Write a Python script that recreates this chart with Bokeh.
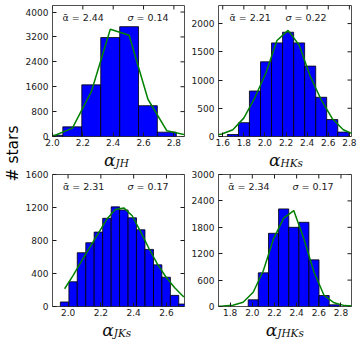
import numpy as np
from bokeh.plotting import figure
from bokeh.models import Label, FixedTicker, Range1d
from bokeh.layouts import row, column
from bokeh.embed import file_html
from bokeh.resources import INLINE

# ---------------- data ----------------
# panel 1 : alpha_JH
jh_edges = [1.944, 2.068, 2.193, 2.318, 2.443, 2.567, 2.691, 2.816]
jh_counts = [40, 310, 1660, 3180, 3530, 990, 140]
jh_fit_x = [2.006, 2.131, 2.256, 2.381, 2.505, 2.629, 2.754, 2.878]
jh_fit_y = [15, 270, 1440, 3446, 3254, 1197, 182, 50]
jh_xticks = [2.0, 2.2, 2.4, 2.6, 2.8]
jh_xlabels = ["2.0", "2.2", "2.4", "2.6", "2.8"]
jh_yticks = [0, 800, 1600, 2400, 3200, 4000]
jh_mean, jh_sigma = "2.44", "0.14"

# panel 2 : alpha_HKs
hks_edges = [1.644, 1.749, 1.853, 1.958, 2.062, 2.167, 2.272, 2.376, 2.481, 2.585, 2.690, 2.795]
hks_counts = [35, 245, 806, 1323, 1658, 1847, 1658, 1247, 695, 300, 78]
hks_fit_x = [1.487, 1.592, 1.696, 1.801, 1.905, 2.010, 2.114, 2.219, 2.324, 2.428, 2.533, 2.637, 2.742, 2.847]
hks_fit_y = [8, 45, 120, 330, 690, 1130, 1700, 1880, 1620, 1070, 650, 320, 120, 35]
hks_xticks = [1.6, 1.8, 2.0, 2.2, 2.4, 2.6, 2.8]
hks_xlabels = ["1.6", "1.8", "2.0", "2.2", "2.4", "2.6", "2.8"]
hks_yticks = [0, 500, 1000, 1500, 2000]
hks_mean, hks_sigma = "2.21", "0.22"

# panel 3 : alpha_JKs
jks_edges = [1.953, 2.005, 2.056, 2.108, 2.159, 2.211, 2.263, 2.314, 2.366, 2.417,
             2.469, 2.521, 2.572, 2.624, 2.675, 2.727]
jks_counts = [55, 300, 652, 773, 902, 1069, 1208, 1170, 1075, 930, 692, 505, 355, 135, 30]
jks_fit_x = [1.979, 2.030, 2.082, 2.133, 2.185, 2.237, 2.288, 2.340, 2.391, 2.443,
             2.494, 2.546, 2.598, 2.649, 2.701, 2.752]
jks_fit_y = [215, 375, 550, 720, 890, 1060, 1175, 1195, 1100, 905,
             700, 510, 355, 230, 125, 65]
jks_xticks = [2.0, 2.2, 2.4, 2.6]
jks_xlabels = ["2.0", "2.2", "2.4", "2.6"]
jks_yticks = [0, 400, 800, 1200, 1600]
jks_mean, jks_sigma = "2.31", "0.17"

# panel 4 : alpha_JHKs
jhks_edges = [1.963, 2.054, 2.146, 2.237, 2.329, 2.420, 2.511, 2.602, 2.694, 2.785]
jhks_counts = [152, 765, 1664, 2218, 1800, 1914, 1060, 250, 39]
jhks_fit_x = [1.642, 1.734, 1.825, 1.917, 2.008, 2.100, 2.191, 2.283, 2.374, 2.465,
              2.557, 2.648, 2.739, 2.831, 2.922]
jhks_fit_y = [3, 10, 30, 98, 325, 817, 1536, 2010, 2180, 1540, 780, 250, 84, 20, 8]
jhks_xticks = [1.8, 2.0, 2.2, 2.4, 2.6, 2.8]
jhks_xlabels = ["1.8", "2.0", "2.2", "2.4", "2.6", "2.8"]
jhks_yticks = [0, 600, 1200, 1800, 2400, 3000]
jhks_mean, jhks_sigma = "2.34", "0.17"

YLABEL = "# stars"

TICK_FONT = "DejaVu Sans"
TICK_COLOR = "#1a1a1a"
FRAME_COLOR = "#505050"


def style_axis(ax, ticks, labels=None, standoff=3):
    ax.ticker = FixedTicker(ticks=ticks)
    if labels is not None:
        ax.major_label_overrides = {t: l for t, l in zip(ticks, labels)}
    ax.major_tick_in = 4
    ax.major_tick_out = 0
    ax.major_tick_line_color = TICK_COLOR
    ax.minor_tick_line_color = None
    ax.axis_line_color = None
    ax.major_label_standoff = standoff
    ax.major_label_text_font = TICK_FONT
    ax.major_label_text_font_size = "9px"
    ax.major_label_text_color = TICK_COLOR


def panel(edges, counts, fx, fy, xr, yr, xticks, xlabels, yticks, mean, sigma,
          width, height, bl, br, bt, bb, frame_h, a_dx, s_dx):
    p = figure(width=width, height=height, x_range=Range1d(*xr), y_range=Range1d(*yr),
               output_backend="svg", toolbar_location=None, title=None,
               min_border_left=bl, min_border_right=br,
               min_border_top=bt, min_border_bottom=bb)
    p.grid.visible = False
    p.outline_line_color = FRAME_COLOR
    p.outline_line_width = 1
    p.background_fill_color = "white"
    p.border_fill_color = "white"

    p.quad(left=edges[:-1], right=edges[1:], bottom=0, top=counts,
           fill_color="#0000ff", line_color="black", line_width=0.8)
    p.line(fx, fy, line_color="#008000", line_width=1.5)

    style_axis(p.xaxis[0], xticks, xlabels, standoff=2)
    style_axis(p.yaxis[0], yticks, None, standoff=4)

    # inward ticks on the top and right edges of the frame
    p.scatter(x=xticks, y=[yr[1]] * len(xticks), marker="dash", angle=np.pi / 2,
              size=8, line_color=TICK_COLOR, line_width=1)
    p.scatter(x=[xr[1]] * len(yticks), y=yticks, marker="dash",
              size=8, line_color=TICK_COLOR, line_width=1)

    ty = frame_h - 12
    p.add_layout(Label(x=a_dx, y=ty, x_units="screen", y_units="screen",
                       text="ᾱ = " + mean, text_font=TICK_FONT, text_font_size="9.5px",
                       text_color="#1a1a1a", text_baseline="middle", text_align="left"))
    p.add_layout(Label(x=s_dx, y=ty, x_units="screen", y_units="screen",
                       text="σ", text_font=TICK_FONT, text_font_style="italic",
                       text_font_size="9.5px",
                       text_color="#1a1a1a", text_baseline="middle", text_align="left"))
    p.add_layout(Label(x=s_dx + 9, y=ty, x_units="screen", y_units="screen",
                       text="=  " + sigma, text_font=TICK_FONT, text_font_size="9.5px",
                       text_color="#1a1a1a", text_baseline="middle", text_align="left"))
    return p


def xlabel_fig(width, height, split, sub, ya, ys):
    f = figure(width=width, height=height, output_backend="svg", toolbar_location=None,
               title=None, min_border=0, x_range=(0, 1), y_range=(0, 1))
    f.axis.visible = False
    f.grid.visible = False
    f.outline_line_color = None
    f.add_layout(Label(x=split, y=ya, x_units="screen", y_units="screen",
                       text="α", text_font="DejaVu Serif", text_font_style="italic",
                       text_font_size="17px", text_color="#111111",
                       text_baseline="middle", text_align="right"))
    f.add_layout(Label(x=split, y=ys, x_units="screen", y_units="screen",
                       text=sub, text_font="DejaVu Serif", text_font_style="italic",
                       text_font_size="10.5px", text_color="#111111",
                       text_baseline="middle", text_align="left"))
    return f


# top row: 5 + frame 131 + 13 ; bottom row: 5 + frame 132 + 13
p1 = panel(jh_edges, jh_counts, jh_fit_x, jh_fit_y, (2.0, 2.87), (0, 4210),
           jh_xticks, jh_xlabels, jh_yticks, jh_mean, jh_sigma,
           166, 149, 28, 4, 5, 13, 131, 10, 75)
p2 = panel(hks_edges, hks_counts, hks_fit_x, hks_fit_y, (1.56, 2.82), (0, 2320),
           hks_xticks, hks_xlabels, hks_yticks, hks_mean, hks_sigma,
           172, 149, 28, 9, 5, 13, 131, 11, 67)
p3 = panel(jks_edges, jks_counts, jks_fit_x, jks_fit_y, (1.905, 2.71), (0, 1600),
           jks_xticks, jks_xlabels, jks_yticks, jks_mean, jks_sigma,
           166, 150, 28, 4, 5, 13, 132, 10.5, 75)
p4 = panel(jhks_edges, jhks_counts, jhks_fit_x, jhks_fit_y, (1.695, 2.895), (0, 3000),
           jhks_xticks, jhks_xlabels, jhks_yticks, jhks_mean, jhks_sigma,
           172, 150, 28, 9, 5, 13, 132, 9.7, 74)

x1 = xlabel_fig(166, 20, 93, "JH", 9.9, 6.1)
x2 = xlabel_fig(172, 20, 92, "HKs", 9.9, 6.1)
x3 = xlabel_fig(166, 20, 91.3, "JKs", 9.9, 6.1)
x4 = xlabel_fig(172, 20, 88.7, "JHKs", 9.9, 6.1)

lab = figure(width=22, height=339, output_backend="svg", toolbar_location=None,
             title=None, min_border=0, x_range=(0, 1), y_range=(0, 1))
lab.axis.visible = False
lab.grid.visible = False
lab.outline_line_color = None
lab.add_layout(Label(x=12, y=186, x_units="screen", y_units="screen", text=YLABEL,
                     angle=np.pi / 2, text_font="DejaVu Sans", text_font_size="15.5px",
                     text_color="black", text_align="center", text_baseline="middle"))

layout = row(lab, column(row(p1, p2), row(x1, x2), row(p3, p4), row(x3, x4)))
open("out.html", "w").write(file_html(layout, INLINE))
